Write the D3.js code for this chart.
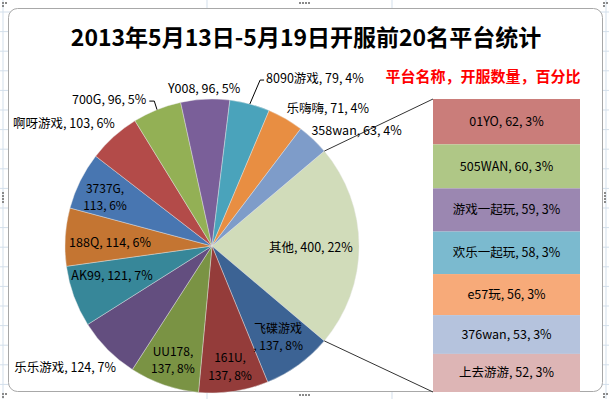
<!DOCTYPE html>
<html>
<head>
<meta charset="utf-8">
<script src="https://cdn.jsdelivr.net/npm/d3@7"></script>
<style>
body{margin:0;background:#fff;}
svg{display:block;}
text{font-family:"Noto Sans CJK SC","Microsoft YaHei",sans-serif;}
</style>
</head>
<body>
<svg id="chart" width="609" height="399"></svg>
<script>
// 饼图里的平台（"其他"由右边柱子合计）
const pieNames  = ["飞碟游戏","161U","UU178","乐乐游戏","AK99","188Q","3737G","啊呀游戏","700G","Y008","8090游戏","乐嗨嗨","358wan"];
const pieValues = [137,137,137,124,121,114,113,103,96,96,79,71,63];
const pieColors = ["#3c6394","#943c3a","#7a9344","#634e7f","#378799","#c47532","#4876b1","#b34b49","#93b055","#7a5f99","#4aa3bb","#e88e42","#7e9cc9"];

// 右边堆积柱
const barNames  = ["01YO","505WAN","游戏一起玩","欢乐一起玩","e57玩","376wan","上去游游"];
const barValues = [62,60,59,58,56,53,52];
const barColors = ["#ca7d7a","#afc786","#9b87b1","#7bbacf","#f7aa79","#b5c3dd","#ddb5b5"];

const otherName = "其他";
const otherColor = "#d1dcba";

const titleText = "2013年5月13日-5月19日开服前20名平台统计";
const legendText = "平台名称，开服数量，百分比";

// 标签位置（相对圆心：半径倍数, 角度°, 换行方式）
const labelPlace = {
  "其他":[0.673,0.6,null], "飞碟游戏":[0.765,54,"before"], "161U":[0.83,81.5,"after"],
  "UU178":[0.82,108.9,"after"], "乐乐游戏":[1.295,140.5,null], "AK99":[0.71,163.3,null],
  "188Q":[0.694,181.7,null], "3737G":[0.8,204.6,"after"], "啊呀游戏":[1.305,219.5,null],
  "700G":[1.22,235,null], "Y008":[1.07,267.1,null], "8090游戏":[1.34,301.5,null],
  "乐嗨嗨":[1.225,310,null], "358wan":[1.26,321.3,null]
};
const leaderOn = ["700G","8090游戏"];

const svg = d3.select("#chart");
const W = 609, H = 399;

// 表格背景
const grid = svg.append("g");
d3.range(12, H, 19.6).forEach(y => grid.append("line").attr("x1",0).attr("x2",W).attr("y1",y).attr("y2",y).attr("stroke","#d3dfeb"));
[3, 207, 392, 606].forEach(x => grid.append("line").attr("x1",x).attr("x2",x).attr("y1",0).attr("y2",H).attr("stroke","#d3dfeb"));

// 图表区
svg.append("rect").attr("x",8.5).attr("y",8.5).attr("width",594).attr("height",383).attr("rx",9)
  .attr("fill","#fff").attr("stroke","#a8a8a8");

// 手柄小点
function handle(x, y, horiz){
  for(let i=0;i<4;i++){
    svg.append("rect").attr("x", horiz ? x+i*3 : x).attr("y", horiz ? y : y+i*3)
      .attr("width",2).attr("height",2).attr("fill","#8a8a8a");
  }
}
[[2,2],[603,2],[2,393],[603,393]].forEach(p => {
  svg.append("rect").attr("x",p[0]).attr("y",p[1]).attr("width",2).attr("height",2).attr("fill","#8a8a8a");
  svg.append("rect").attr("x",p[0]+3).attr("y",p[1]).attr("width",2).attr("height",2).attr("fill","#8a8a8a");
  svg.append("rect").attr("x",p[0]).attr("y",p[1]+3).attr("width",2).attr("height",2).attr("fill","#8a8a8a");
});
handle(299,2,true); handle(299,394,true); handle(2,192,false); handle(604,192,false);

// 标题
svg.append("text").attr("x",306).attr("y",46).attr("text-anchor","middle")
  .attr("font-size",23).attr("font-weight","bold").attr("fill","#000").text(titleText);
svg.append("text").attr("x",483).attr("y",82).attr("text-anchor","middle")
  .attr("font-size",15).attr("font-weight","bold").attr("fill","#ff0000").text(legendText);

// 数据
const otherValue = d3.sum(barValues);
const pieData = [{name:otherName, value:otherValue, color:otherColor}]
  .concat(pieNames.map((n,i) => ({name:n, value:pieValues[i], color:pieColors[i]})));
const total = d3.sum(pieData, d => d.value);
const pct = v => Math.round(v/total*100) + "%";

const cx = 212, cy = 246, R = 147;
const share = otherValue/total;
const a0 = Math.PI/2 - share*Math.PI;
const pie = d3.pie().sort(null).value(d => d.value).startAngle(a0).endAngle(a0 + 2*Math.PI);
const arcs = pie(pieData);
const arc = d3.arc().innerRadius(0).outerRadius(R);

const g = svg.append("g").attr("transform",`translate(${cx},${cy})`);
g.selectAll("path").data(arcs).join("path")
  .attr("d", arc).attr("fill", d => d.data.color)
  .attr("stroke","#e8e8e8").attr("stroke-width",0.6).attr("stroke-opacity",0.7);

// 连接线：饼图"其他"边缘到柱子
const barX = 433, barW = 147;
const y = d3.scaleLinear().domain([0, otherValue]).range([99, 392]);
const other = arcs[0];
const edge = ang => [cx + R*Math.sin(ang), cy - R*Math.cos(ang)];
const e1 = edge(other.startAngle), e2 = edge(other.endAngle);
svg.append("line").attr("x1",e1[0]).attr("y1",e1[1]).attr("x2",barX).attr("y2",y(0))
  .attr("stroke","#333").attr("stroke-width",1);
svg.append("line").attr("x1",e2[0]).attr("y1",e2[1]).attr("x2",barX).attr("y2",y(otherValue))
  .attr("stroke","#333").attr("stroke-width",1);

// 堆积柱
const cum = d3.cumsum(barValues);
const barData = barNames.map((n,i) => ({name:n, value:barValues[i], color:barColors[i], y0:cum[i]-barValues[i], y1:cum[i]}));
svg.selectAll("rect.seg").data(barData).join("rect").attr("class","seg")
  .attr("x",barX).attr("width",barW)
  .attr("y", d => y(d.y0)).attr("height", d => y(d.y1) - y(d.y0))
  .attr("fill", d => d.color);
svg.selectAll("text.seg").data(barData).join("text").attr("class","seg")
  .attr("x", barX + barW/2).attr("y", d => (y(d.y0)+y(d.y1))/2 + 4.5)
  .attr("text-anchor","middle").attr("font-size",12.5).attr("fill","#000")
  .text(d => `${d.name}, ${d.value}, ${pct(d.value)}`);

// 饼图标签
const lab = svg.append("g");
arcs.forEach(a => {
  const d = a.data, p = labelPlace[d.name];
  const th = p[1]*Math.PI/180;
  const lx = cx + p[0]*R*Math.cos(th), ly = cy + p[0]*R*Math.sin(th);
  let lines;
  if(p[2] === "after") lines = [`${d.name},`, `${d.value}, ${pct(d.value)}`];
  else if(p[2] === "before") lines = [d.name, `, ${d.value}, ${pct(d.value)}`];
  else lines = [`${d.name}, ${d.value}, ${pct(d.value)}`];
  const lh = 17.5, top = ly - (lines.length-1)*lh/2 + 4.5;
  const fs = lines.length > 1 ? 12 : 12.5;
  let w = 0;
  lines.forEach((s,i) => {
    const t = lab.append("text").attr("x",lx).attr("y",top + i*lh).attr("text-anchor","middle")
      .attr("font-size",fs).attr("fill","#000").text(s);
    w = Math.max(w, t.node().getComputedTextLength());
  });

  if(leaderOn.includes(d.name)){
    const mid = (a.startAngle + a.endAngle)/2;
    const ep = edge(mid);
    const right = ep[0] > lx;
    const sx = right ? lx + w/2 + 3 : lx - w/2 - 2;
    const sy = ly + 2;
    const hx = right ? sx + 5 : sx - 4;
    lab.append("polyline").attr("points",`${sx},${sy} ${hx},${sy} ${ep[0]},${ep[1]}`)
      .attr("fill","none").attr("stroke","#000").attr("stroke-width",1);
  }
});
</script>
</body>
</html>
